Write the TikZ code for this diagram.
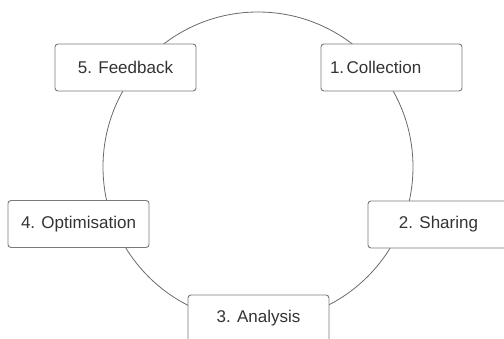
\documentclass[tikz,border=0pt]{standalone}
\usepackage{fontspec}
\setmainfont{Liberation Sans}
\definecolor{linegray}{HTML}{6A6A6A}
\definecolor{boxgray}{HTML}{7A7A7A}
\definecolor{textgray}{HTML}{333333}
\begin{document}
\begin{tikzpicture}[x=1pt,y=-1pt,
  stagebox/.style={draw=boxgray, line width=0.9pt, fill=white, rounded corners=3pt,
    minimum width=141pt, minimum height=47pt, inner sep=0pt, text=textgray,
    font=\fontsize{17}{20}\selectfont}]
\useasboundingbox (0,0) rectangle (504,338);
\node[draw=linegray, line width=0.8pt, circle, minimum size=310pt, inner sep=0pt] (ring) at (258,167) {};
\node[stagebox] (fb) at (125.5,67.5) {5. Feedback};
\node[stagebox, text width=123pt, align=left, inner xsep=9pt] (col) at (391.5,67.5) {1.\hspace{2.5pt}Collection};
\node[stagebox] (opt) at (78.5,224) {4. Optimisation};
\node[stagebox] (sh) at (438.5,224.5) {2. Sharing};
\node[stagebox] (an) at (258.5,318.5) {3. Analysis};
\end{tikzpicture}
\end{document}
